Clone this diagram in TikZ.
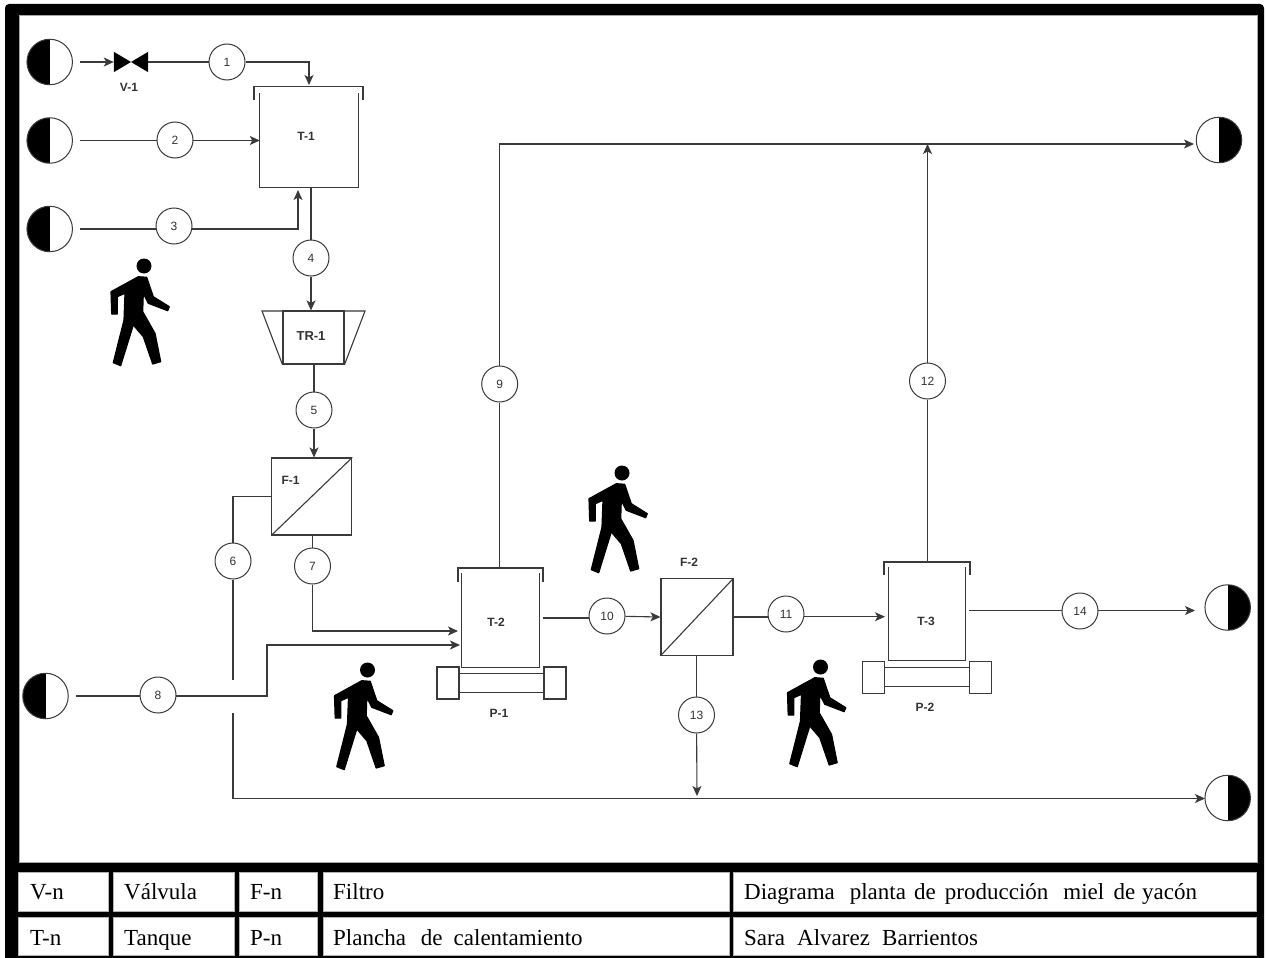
\documentclass[tikz,border=0pt]{standalone}
\usepackage{fontspec}
\setmainfont{Liberation Serif}
\newfontfamily\lblfont{Liberation Sans}
\usetikzlibrary{arrows.meta}
\pgfdeclarelayer{back}
\pgfdeclarelayer{under}
\pgfsetlayers{back,under,main}
\definecolor{ln}{HTML}{3A3A3A}
\definecolor{tx}{HTML}{333333}
\tikzset{
  flow/.style={draw=ln,line width=1.1pt},
  arr/.style={flow,-{Stealth[length=10pt,width=9pt,inset=2.5pt]}},
  num/.style={circle,draw=ln,line width=1pt,fill=white,minimum size=36pt,inner sep=0pt,text=tx,font=\lblfont\fontsize{12}{14}\selectfont},
  tag/.style={inner sep=0pt,text=tx,font=\lblfont\bfseries\fontsize{12}{14}\selectfont},
  port/.style={circle,draw=ln,line width=1pt,fill=white,minimum size=45.5pt,inner sep=0pt},
  srcport/.style={port,path picture={\fill[black] (path picture bounding box.south west) rectangle (path picture bounding box.north);}},
  sinkport/.style={port,path picture={\fill[black] (path picture bounding box.south east) rectangle (path picture bounding box.north);}},
  unitbox/.style={draw=ln,line width=1.1pt,inner sep=0pt,fill=white},
  hollow/.style={inner sep=0pt},
  tabletext/.style={anchor=base west,inner sep=0pt,font=\fontsize{23}{25}\selectfont,text=black},
  pics/walker/.style={code={
    \fill[black] (0,0) circle (7.5);
    \filldraw[black,line width=1.2pt,line join=round] (-5.7,10.7) -- (2.7,11.3) -- (9.3,30.7) -- (25.3,40.7) -- (23.7,44.7) -- (4.3,37.3) -- (-0.7,27.3) -- (-1.3,45.7) -- (11,67.3) -- (16.7,95.7) -- (8.7,98) -- (-0.7,70.7) -- (-10.7,59) -- (-23.3,99.7) -- (-30.7,96.7) -- (-20,54) -- (-19,27.3) -- (-26.7,30.7) -- (-26.7,48) -- (-32.3,48) -- (-33,25.7) -- cycle;
  }}
}
\begin{document}
\begin{tikzpicture}[x=1pt,y=-1pt]
\useasboundingbox (0,0) rectangle (1269,958);
% frame
\begin{pgfonlayer}{back}
\fill[white] (0,0) rectangle (1269,958);
\fill[black,rounded corners=4pt] (5,4) rectangle (1264,966);
\fill[white,draw=gray!70,line width=0.6pt] (19,15) rectangle (1257,862);
% table cells
\foreach \xa/\xb in {18/108,113.5/234,239.5/317.5,323/729,733.5/1256}{
  \fill[white,draw=gray!60,line width=0.5pt] (\xa,872) rectangle (\xb,911);
  \fill[white,draw=gray!60,line width=0.5pt] (\xa,917) rectangle (\xb,955);
}
\end{pgfonlayer}
\node[tabletext] (t11) at (30,899) {V-n};
\node[tabletext] (t12) at (124,899) {Válvula};
\node[tabletext] (t13) at (250,899) {F-n};
\node[tabletext] (t14) at (333,899) {Filtro};
\node[tabletext] (t15) at (744,899) {Diagrama\hspace{0.4em} planta\hspace{0.1em} de\hspace{0.15em} producción\hspace{0.4em} miel\hspace{0.15em} de\hspace{0.05em} yacón};
\node[tabletext] (t21) at (30,945) {T-n};
\node[tabletext] (t22) at (124,945) {Tanque};
\node[tabletext] (t23) at (250,945) {P-n};
\node[tabletext] (t24) at (333,945) {Plancha\hspace{0.4em} de\hspace{0.23em} calentamiento};
\node[tabletext] (t25) at (744,945) {Sara\hspace{0.28em} Alvarez\hspace{0.28em} Barrientos};
% ports
\node[srcport] (s1) at (49.7,62) {};
\node[srcport] (s2) at (49.7,140.5) {};
\node[srcport] (s3) at (49.7,229) {};
\node[srcport] (s4) at (45.5,696) {};
\node[sinkport] (o1) at (1219,140) {};
\node[sinkport] (o2) at (1227.7,607.5) {};
\node[sinkport] (o3) at (1227.7,798) {};
% valve
\node[hollow,minimum width=34pt,minimum height=20pt] (V1) at (131,62) {};
\fill[black] (V1.north west) -- (V1.center) -- (V1.north east) -- (V1.south east) -- (V1.center) -- (V1.south west) -- cycle;
\node[tag] (lV1) at (129,87) {V-1};
% T-1
\node[hollow,minimum width=98pt,minimum height=94pt] (T1) at (309,140) {};
\draw[flow] (T1.north west) -- (T1.south west) -- (T1.south east) -- (T1.north east);
\draw[flow] (254,100) -- (254,86.5) -- (363,86.5) -- (363,100);
\node[tag] (lT1) at (306,136) {T-1};
% TR-1
\node[unitbox,minimum width=61pt,minimum height=53pt] (TR1) at (313.5,337.5) {};
\draw[flow] (TR1.south west) -- (262,311) -- (365,311) -- (TR1.south east);
\node[tag,font=\lblfont\bfseries\fontsize{13}{15}\selectfont] (lTR1) at (311,336) {TR-1};
% F-1
\node[unitbox,minimum width=80pt,minimum height=77pt] (F1) at (311.7,496.5) {};
\draw[flow] (F1.south west) -- (F1.north east);
\node[tag] (lF1) at (290.5,480) {F-1};
% T-2
\node[hollow,minimum width=77.5pt,minimum height=94pt] (T2) at (500.4,620) {};
\draw[flow] (T2.north west) -- (T2.south west) -- (T2.south east) -- (T2.north east);
\draw[flow] (458,582) -- (458,568) -- (543,568) -- (543,582);
\coordinate (T2top) at (499.7,568);
\node[tag] (lT2) at (496,622) {T-2};
% P-1
\node[unitbox,minimum width=85pt,minimum height=19pt] (P1m) at (501.5,683) {};
\node[unitbox,minimum width=22pt,minimum height=32pt] (P1a) at (448,683) {};
\node[unitbox,minimum width=22pt,minimum height=32pt] (P1b) at (555,683) {};
\node[tag] (lP1) at (499,713) {P-1};
% F-2
\node[unitbox,minimum width=72pt,minimum height=76.5pt] (F2) at (697,617) {};
\draw[flow] (F2.south west) -- (F2.north east);
\node[tag] (lF2) at (689,562) {F-2};
% T-3
\node[hollow,minimum width=76.5pt,minimum height=93pt] (T3) at (926.9,613.5) {};
\draw[flow] (T3.north west) -- (T3.south west) -- (T3.south east) -- (T3.north east);
\draw[flow] (884,575) -- (884,562) -- (970,562) -- (970,575);
\coordinate (T3top) at (927.5,562);
\node[tag] (lT3) at (926,621) {T-3};
% P-2
\node[unitbox,minimum width=86pt,minimum height=19pt] (P2m) at (927,677) {};
\node[unitbox,minimum width=22pt,minimum height=32pt] (P2a) at (873.5,677.5) {};
\node[unitbox,minimum width=22pt,minimum height=32pt] (P2b) at (980.5,677.5) {};
\node[tag] (lP2) at (925,707) {P-2};
% stream numbers
\node[num] (c1) at (227,62) {1};
\node[num] (c2) at (175,140) {2};
\node[num] (c3) at (174,226) {3};
\node[num] (c4) at (311,258) {4};
\node[num] (c5) at (314,410) {5};
\node[num] (c6) at (233,561) {6};
\node[num] (c7) at (312.5,566) {7};
\node[num] (c8) at (158,695) {8};
\node[num] (c9) at (499.7,384) {9};
\node[num] (c10) at (607,616) {10};
\node[num] (c11) at (786,614) {11};
\node[num] (c12) at (927.5,381) {12};
\node[num] (c13) at (696.5,715) {13};
\node[num] (c14) at (1080,611) {14};
% free ends
\coordinate (a1) at (80,62);
\coordinate (a2) at (80,140.5);
\coordinate (a3) at (80,229);
\coordinate (a4) at (76,696);
\coordinate (in1) at (309,85);
\coordinate (in3) at (298,190);
\coordinate (gap1) at (233,680);
\coordinate (gap2) at (233,713);
\coordinate (in7) at (458,631);
\coordinate (k8) at (267,696);
\coordinate (in8) at (460,645);
\coordinate (in9) at (1194,144);
\coordinate (b10) at (543,618);
\coordinate (in11) at (885,616.7);
\coordinate (in12) at (927.5,144);
\coordinate (in13) at (697,796);
\coordinate (b14) at (969,610.5);
\coordinate (in14) at (1195,610.5);
\coordinate (in15) at (1205,798.5);
% connectors
\begin{pgfonlayer}{under}
\draw[arr] (a1) -- (V1.west);
\draw[flow] (V1) -- (c1);
\draw[arr] (c1) -| (in1);
\draw[flow] (a2) -- (a2 -| c2);
\draw[arr] (c2 |- a2) -- (a2 -| T1.west);
\draw[flow] (a3) -- (a3 -| c3);
\draw[arr] (a3 -| c3) -| (in3);
\draw[flow] (T1.south -| c4) -- (c4);
\draw[arr] (c4) -- (c4 |- TR1.north);
\draw[flow] (TR1.south -| c5) -- (c5);
\draw[arr] (c5) -- (c5 |- F1.north);
\draw[flow] (F1.west) -| (c6);
\draw[flow] (c6) -- (gap1);
\draw[arr] (gap2) |- (in15);
\draw[flow] (F1.south -| c7) -- (c7);
\draw[arr] (c7) |- (in7);
\draw[flow] (a4) -- (a4 -| c8);
\draw[arr] (a4 -| c8) -- (k8) |- (in8);
\draw[flow] (T2top) -- (c9);
\draw[arr] (c9) |- (in9);
\draw[flow] (b10) -- (b10 -| c10);
\draw[arr] (c10) -- (F2.west);
\draw[flow] (F2.east) -- (F2.east -| c11);
\draw[arr] (in11 -| c11) -- (in11);
\draw[flow] (T3top) -- (c12);
\draw[arr] (c12) -- (in12);
\draw[flow] (F2.south -| c13) -- (c13);
\draw[arr] (c13) -- (in13);
\draw[flow] (b14) -- (b14 -| c14);
\draw[arr] (b14 -| c14) -- (in14);
\end{pgfonlayer}
% operators
\pic at (144,266) {walker};
\pic at (367.5,670) {walker};
\pic at (622,473) {walker};
\pic at (820.5,667) {walker};
\end{tikzpicture}
\end{document}
